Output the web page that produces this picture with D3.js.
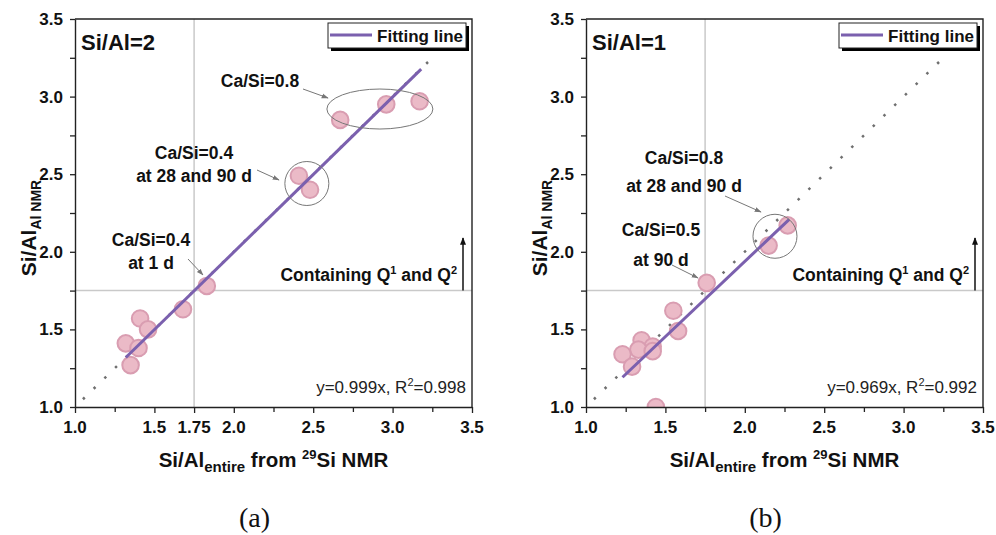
<!DOCTYPE html>
<html>
<head>
<meta charset="utf-8">
<script src="https://cdn.jsdelivr.net/npm/d3@7"></script>
<style>
  html, body { margin: 0; padding: 0; background: #fff; }
  svg { display: block; font-family: "Liberation Sans", Arial, sans-serif; }
  .tick-lbl { font-size: 17px; font-weight: bold; fill: #111; }
  .ann { font-size: 17.5px; font-weight: bold; fill: #111; }
</style>
</head>
<body>
<svg id="chart" width="996" height="535"></svg>
<script>
// ---- data ----
const xA = [2.67, 2.96, 3.17, 2.41, 2.48, 1.83, 1.68, 1.41, 1.46, 1.32, 1.40, 1.35];
const yA = [2.85, 2.95, 2.97, 2.49, 2.40, 1.78, 1.63, 1.57, 1.50, 1.41, 1.38, 1.27];
const xB = [2.27, 2.15, 1.76, 1.55, 1.58, 1.35, 1.42, 1.33, 1.42, 1.23, 1.29, 1.44];
const yB = [2.17, 2.04, 1.80, 1.62, 1.49, 1.43, 1.39, 1.37, 1.36, 1.34, 1.26, 1.00];
const slopeA = 0.999, fitRangeA = [1.32, 3.18];
const slopeB = 0.969, fitRangeB = [1.23, 2.28];
const refRange = [1.05, 3.25];              // dotted y = x
const tickVals = [1.0, 1.25, 1.5, 1.75, 2.0, 2.25, 2.5, 2.75, 3.0, 3.25, 3.5];
const xLabelsA = [1.0, 1.5, 1.75, 2.0, 2.5, 3.0, 3.5];
const xLabelsB = [1.0, 1.5, 2.0, 2.5, 3.0, 3.5];
const yLabels = [1.0, 1.5, 2.0, 2.5, 3.0, 3.5];

const svg = d3.select('#chart');
const defs = svg.append('defs');
defs.append('marker').attr('id', 'ahGray').attr('viewBox', '0 0 10 10').attr('refX', 9).attr('refY', 5)
  .attr('markerWidth', 7).attr('markerHeight', 7).attr('orient', 'auto-start-reverse')
  .append('path').attr('d', 'M0,1.5 L10,5 L0,8.5 Z').attr('fill', '#777');
defs.append('marker').attr('id', 'ahBlack').attr('viewBox', '0 0 10 10').attr('refX', 9).attr('refY', 5)
  .attr('markerWidth', 5).attr('markerHeight', 5).attr('orient', 'auto')
  .append('path').attr('d', 'M0,1 L10,5 L0,9 Z').attr('fill', '#111');

const C = { fill: '#ebbac7', stroke: '#d99db1', fit: '#7b60ae', grid: '#c9c9c9', ref: '#6f6f6f' };
const fmt = d => d3.format('.1f')(d);
const fmtX = d => (d === 1.75 ? '1.75' : d3.format('.1f')(d));

function panel(o) {
  const left = o.left, top = 19, W = 397, H = 388;
  const x = d3.scaleLinear([1, 3.5], [0, W]);
  const y = d3.scaleLinear([1, 3.5], [H, 0]);
  const g = svg.append('g').attr('transform', `translate(${left},${top})`);

  defs.append('clipPath').attr('id', 'clip' + o.id)
    .append('rect').attr('width', W).attr('height', H);

  // reference lines at 1.75
  g.append('line').attr('x1', x(1.75)).attr('x2', x(1.75)).attr('y1', 0).attr('y2', H)
    .attr('stroke', C.grid).attr('stroke-width', 1.5);
  g.append('line').attr('x1', 0).attr('x2', W).attr('y1', y(1.75)).attr('y2', y(1.75))
    .attr('stroke', C.grid).attr('stroke-width', 1.5);

  const pg = g.append('g').attr('clip-path', `url(#clip${o.id})`);
  // dotted y = x
  pg.append('line').attr('x1', x(refRange[0])).attr('y1', y(refRange[0]))
    .attr('x2', x(refRange[1])).attr('y2', y(refRange[1]))
    .attr('stroke', C.ref).attr('stroke-width', 2.5).attr('stroke-dasharray', '2.5,12.5');
  // points
  pg.selectAll('circle.pt').data(o.xs).join('circle').attr('class', 'pt')
    .attr('cx', d => x(d)).attr('cy', (d, i) => y(o.ys[i])).attr('r', 8.3)
    .attr('fill', C.fill).attr('stroke', C.stroke).attr('stroke-width', 2);
  // fitting line
  pg.append('line').attr('x1', x(o.fit[0])).attr('y1', y(o.slope * o.fit[0]))
    .attr('x2', x(o.fit[1])).attr('y2', y(o.slope * o.fit[1]))
    .attr('stroke', C.fit).attr('stroke-width', 3);

  // axes
  const xa = g.append('g').attr('transform', `translate(0,${H})`);
  xa.call(d3.axisBottom(x).tickValues(tickVals).tickFormat('')
    .tickSize(5).tickSizeOuter(0));
  xa.selectAll('.tick line').attr('y2', d => o.xLabels.includes(d) ? 6 : 5);
  xa.selectAll('.tick-lbl').data(o.xLabels).join('text').attr('class', 'tick-lbl')
    .attr('x', d => x(d)).attr('y', 26).attr('text-anchor', 'middle').text(fmtX);
  const ya = g.append('g');
  ya.call(d3.axisLeft(y).tickValues(tickVals).tickFormat('').tickSize(5).tickSizeOuter(0));
  ya.selectAll('.tick-lbl').data(yLabels).join('text').attr('class', 'tick-lbl')
    .attr('x', -12).attr('y', d => y(d)).attr('dy', '0.35em').attr('text-anchor', 'end').text(fmt);
  g.selectAll('.domain').attr('stroke', '#222').attr('stroke-width', 1.4);
  g.selectAll('.tick line').attr('stroke', '#222').attr('stroke-width', 1.3);
  // frame top / right
  g.append('path').attr('d', `M0,0 H${W} V${H}`).attr('fill', 'none')
    .attr('stroke', '#222').attr('stroke-width', 1.4);

  // panel title
  g.append('text').attr('x', 6).attr('y', 31).attr('font-size', 22).attr('font-weight', 'bold')
    .attr('fill', '#111').text(o.title);

  // legend
  const lx = o.legendX, lw = W - lx - 6;
  g.append('rect').attr('x', lx + 3).attr('y', 7).attr('width', lw).attr('height', 25).attr('fill', '#000');
  g.append('rect').attr('x', lx).attr('y', 4).attr('width', lw).attr('height', 25)
    .attr('fill', '#fff').attr('stroke', '#222').attr('stroke-width', 1);
  g.append('line').attr('x1', lx + 2).attr('x2', lx + 44).attr('y1', 16).attr('y2', 16)
    .attr('stroke', C.fit).attr('stroke-width', 3);
  g.append('text').attr('x', lw + lx - 3).attr('y', 22.5).attr('text-anchor', 'end')
    .attr('font-size', 17).attr('font-weight', 'bold').attr('fill', '#111').text('Fitting line');

  // "Containing Q1 and Q2" with arrow
  const cq = g.append('text').attr('class', 'ann').attr('font-size', 16.5)
    .attr('x', o.cqX).attr('y', 262).attr('text-anchor', 'end');
  cq.append('tspan').text('Containing Q');
  cq.append('tspan').attr('dy', -7).attr('font-size', 11).text('1');
  cq.append('tspan').attr('dy', 7).text(' and Q');
  cq.append('tspan').attr('dy', -7).attr('font-size', 11).text('2');
  g.append('line').attr('x1', o.cqX + 6).attr('x2', o.cqX + 6).attr('y1', y(1.75)).attr('y2', 219)
    .attr('stroke', '#111').attr('stroke-width', 1.5).attr('marker-end', 'url(#ahBlack)');

  // equation
  const eq = g.append('text').attr('x', W - 6).attr('y', 374).attr('text-anchor', 'end')
    .attr('font-size', 17).attr('fill', '#222');
  eq.append('tspan').text(o.eq[0]);
  eq.append('tspan').attr('dy', -7).attr('font-size', 11).text('2');
  eq.append('tspan').attr('dy', 7).text(o.eq[1]);

  // annotations (positions in panel px)
  o.notes.forEach(n => {
    const t = g.append('text').attr('class', 'ann').attr('text-anchor', 'middle');
    n.lines.forEach((s, i) => t.append('tspan').attr('x', n.x).attr('y', n.y + i * n.gap).text(s));
    g.append('line').attr('x1', n.a[0]).attr('y1', n.a[1]).attr('x2', n.a[2]).attr('y2', n.a[3])
      .attr('stroke', '#777').attr('stroke-width', 1).attr('marker-end', 'url(#ahGray)');
  });
  o.rings.forEach(r => {
    g.append('ellipse').attr('cx', x(r.cx)).attr('cy', y(r.cy)).attr('rx', r.rx).attr('ry', r.ry)
      .attr('fill', 'none').attr('stroke', '#777').attr('stroke-width', 1);
  });

  // axis titles
  const xt = g.append('text').attr('x', W / 2).attr('y', 448).attr('text-anchor', 'middle')
    .attr('font-size', 20.5).attr('font-weight', 'bold').attr('fill', '#111');
  xt.append('tspan').text('Si/Al');
  xt.append('tspan').attr('dy', 5).attr('font-size', 15).text('entire');
  xt.append('tspan').attr('dy', -5).text(' from ');
  xt.append('tspan').attr('dy', -8).attr('font-size', 13).text('29');
  xt.append('tspan').attr('dy', 8).text('Si NMR');

  const yt = g.append('text').attr('transform', `translate(-39,${H / 2 + 15}) rotate(-90)`)
    .attr('text-anchor', 'middle').attr('font-size', 21).attr('font-weight', 'bold').attr('fill', '#111');
  yt.append('tspan').text('Si/Al');
  yt.append('tspan').attr('dy', 5).attr('font-size', 14).text('Al NMR');

  svg.append('text').attr('x', left + W / 2 - 19).attr('y', 527).attr('text-anchor', 'middle')
    .attr('font-family', '"Liberation Serif", "Times New Roman", serif').attr('font-size', 28)
    .attr('fill', '#111').text(o.tag);
}

panel({
  id: 'a', left: 75, xs: xA, ys: yA, slope: slopeA, fit: fitRangeA, xLabels: xLabelsA,
  title: 'Si/Al=2', legendX: 253, cqX: 382, eq: ['y=0.999x, R', '=0.998'], tag: '(a)',
  notes: [
    { lines: ['Ca/Si=0.8'], x: 185, y: 68, gap: 0, a: [228, 70, 253, 79] },
    { lines: ['Ca/Si=0.4', 'at 28 and 90 d'], x: 119, y: 140, gap: 23, a: [182, 151, 204, 161] },
    { lines: ['Ca/Si=0.4', 'at 1 d'], x: 76, y: 227, gap: 23, a: [113, 240, 128, 256] }
  ],
  rings: [{ cx: 2.92, cy: 2.92, rx: 53, ry: 20 }, { cx: 2.46, cy: 2.44, rx: 22, ry: 22 }]
});

panel({
  id: 'b', left: 586, xs: xB, ys: yB, slope: slopeB, fit: fitRangeB, xLabels: xLabelsB,
  title: 'Si/Al=1', legendX: 253, cqX: 383, eq: ['y=0.969x, R', '=0.992'], tag: '(b)',
  notes: [
    { lines: ['Ca/Si=0.8', 'at 28 and 90 d'], x: 98, y: 145, gap: 28, a: [139, 177, 175, 193] },
    { lines: ['Ca/Si=0.5', 'at 90 d'], x: 75, y: 217, gap: 30, a: [86, 246, 112, 259] }
  ],
  rings: [{ cx: 2.19, cy: 2.1, rx: 22, ry: 22 }]
});
</script>
</body>
</html>
